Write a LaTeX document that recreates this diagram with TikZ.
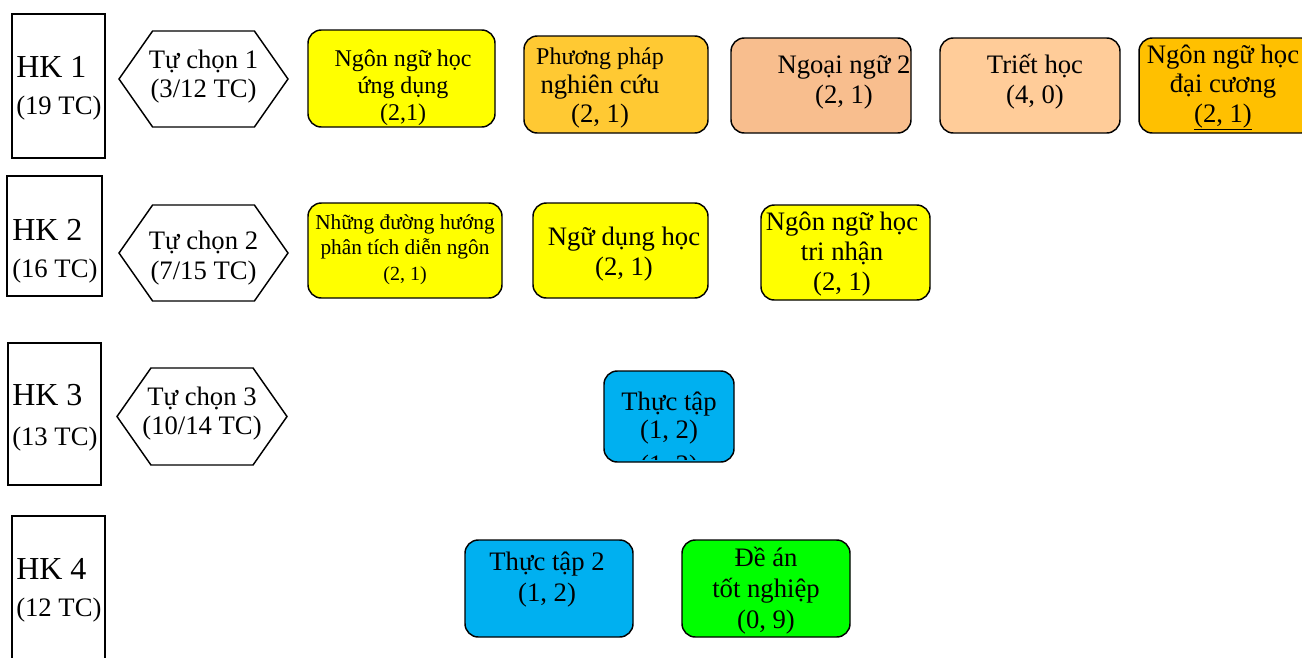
\documentclass[tikz,border=0pt]{standalone}
\usepackage{fontspec}
\setmainfont{Liberation Serif}
\usetikzlibrary{shapes.symbols}

\definecolor{vang}{HTML}{FFFF00}
\definecolor{vangcam}{HTML}{FFC933}
\definecolor{camnhat}{HTML}{F8BE8E}
\definecolor{damao}{HTML}{FFCC99}
\definecolor{vangdam}{HTML}{FFC000}
\definecolor{xanhduong}{HTML}{00B0F0}
\definecolor{xanhla}{HTML}{00FF00}

\begin{document}
\begin{tikzpicture}[x=0.75pt, y=-0.75pt,
  hk/.style={draw, fill=white, line width=1.1pt, inner sep=0pt},
  tuchon/.style={draw, fill=white, line width=1.1pt, signal, signal to=west and east, signal pointer angle=110, inner sep=0pt, minimum width=126.75pt, minimum height=72pt},
  mon/.style={draw, line width=1.1pt, rounded corners=10pt, inner sep=0pt, minimum height=71.25pt},
  chu/.style={anchor=base, align=center, inner sep=0pt, font=\fontsize{20}{22.5}\selectfont},
  hkchu/.style={anchor=base west, align=left, inner sep=0pt, font=\fontsize{20}{27.75}\selectfont}]
\useasboundingbox (0,0) rectangle (1302,657);
\clip (0,0) rectangle (1302,657);

% hoc ky
\node[hk, minimum width=69.75pt, minimum height=108pt] (hk1) at (58.5,86) {};
\node[hkchu] (hk1t) at (16,114) {{\fontsize{24}{27.75}\selectfont HK 1}\\(19 TC)};
\node[hk, minimum width=71.25pt, minimum height=90pt] (hk2) at (54.5,236) {};
\node[hkchu] (hk2t) at (12,277) {{\fontsize{24}{27.75}\selectfont HK 2}\\(16 TC)};
\node[hk, minimum width=69.75pt, minimum height=106.5pt] (hk3) at (54.5,414) {};
\node[hkchu] (hk3t) at (12,445) {{\fontsize{24}{27.75}\selectfont HK 3}\\[2pt](13 TC)};
\node[hk, minimum width=69.75pt, minimum height=123pt] (hk4) at (58.5,598) {};
\node[hkchu] (hk4t) at (16,616) {{\fontsize{24}{27.75}\selectfont HK 4}\\(12 TC)};

% tu chon
\node[tuchon] (tc1) at (203.5,79) {};
\node[chu, font=\fontsize{20}{21.75}\selectfont] (tc1t) at (203.5,97) {Tự chọn 1\\(3/12 TC)};
\node[tuchon] (tc2) at (203.5,253) {};
\node[chu, font=\fontsize{20}{22.5}\selectfont] (tc2t) at (203.5,279) {Tự chọn 2\\(7/15 TC)};
\node[tuchon, minimum width=127.5pt, minimum height=72.75pt] (tc3) at (202,416.5) {};
\node[chu, font=\fontsize{20}{21.75}\selectfont] (tc3t) at (202,434) {Tự chọn 3\\(10/14 TC)};

% HK 1
\node[mon, fill=vang, minimum width=140.25pt, minimum height=72.75pt] (nnhud) at (401.5,78.5) {};
\node[chu, font=\fontsize{18}{19.9}\selectfont] (nnhudt) at (403,120) {Ngôn ngữ học\\ứng dụng\\(2,1)};
\node[mon, fill=vangcam, minimum width=138pt, minimum height=72.75pt] (ppnc) at (616,84.5) {};
\node[chu, font=\fontsize{20}{21.75}\selectfont] (ppnct) at (600,122) {{\fontsize{18}{21.75}\selectfont Phương pháp}\\nghiên cứu\\(2, 1)};
\node[mon, fill=camnhat, minimum width=135pt] (nn2) at (821,85.5) {};
\node[chu] (nn2t) at (844,103) {Ngoại ngữ 2\\(2, 1)};
\node[mon, fill=damao, minimum width=135pt] (triet) at (1030,85.5) {};
\node[chu] (triett) at (1035,103) {Triết học\\(4, 0)};
\node[mon, fill=vangdam, minimum width=132pt] (nnhdc) at (1227,85.5) {};
\node[chu, font=\fontsize{20}{22}\selectfont] (nnhdct) at (1223,122) {Ngôn ngữ học\\đại cương\\\underline{(2, 1)}};

% HK 2
\node[mon, fill=vang, minimum width=145.5pt] (dhpt) at (405,250.5) {};
\node[chu, font=\fontsize{16}{19}\selectfont] (dhptt) at (405,280) {Những đường hướng\\phân tích diễn ngôn\\{\fontsize{15}{19}\selectfont (2, 1)}};
\node[mon, fill=vang, minimum width=131.25pt] (ndh) at (620.5,250.5) {};
\node[chu] (ndht) at (624,275) {Ngữ dụng học\\(2, 1)};
\node[mon, fill=vang, minimum width=126.75pt] (nnhtn) at (845.5,252.5) {};
\node[chu] (nnhtnt) at (842,290) {Ngôn ngữ học\\tri nhận\\(2, 1)};

% HK 3
\node[mon, fill=xanhduong, minimum width=97.5pt, minimum height=68.25pt] (thuctap) at (669,416.5) {};
\begin{scope}
\clip (thuctap.north west) rectangle ([yshift=2.25pt]thuctap.south east);
\node[chu, font=\fontsize{20}{21}\selectfont] (thuctapt) at (669,473) {Thực tập\\(1, 2)\\[5pt](1, 2)};
\end{scope}

% HK 4
\node[mon, fill=xanhduong, minimum width=126pt, minimum height=72.75pt] (thuctap2) at (549,588.5) {};
\node[chu, font=\fontsize{20}{23.25}\selectfont] (thuctap2t) at (547,601) {Thực tập 2\\(1, 2)};
\node[mon, fill=xanhla, minimum width=126pt, minimum height=72.75pt] (dean) at (766,588.5) {};
\node[chu, font=\fontsize{20}{23}\selectfont] (deant) at (766,628) {Đề án\\tốt nghiệp\\(0, 9)};
\end{tikzpicture}
\end{document}
